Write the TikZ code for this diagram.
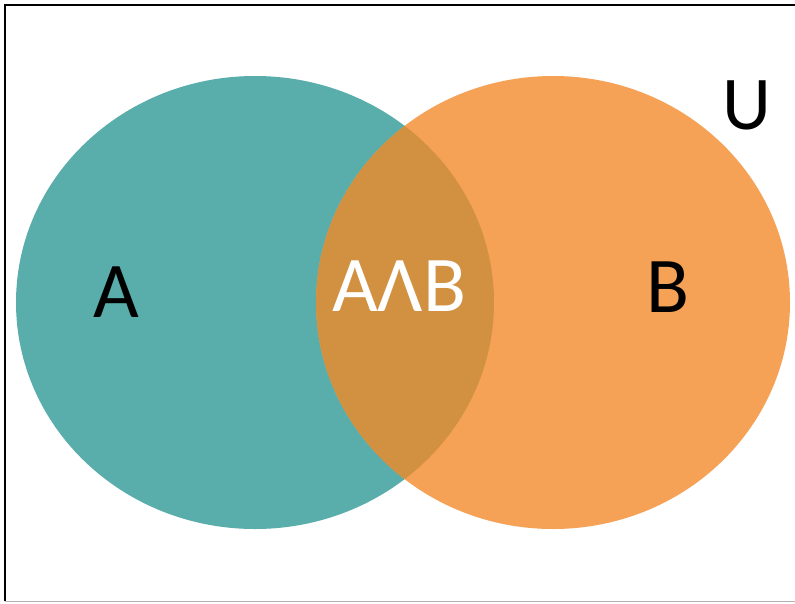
\documentclass[tikz,border=0pt]{standalone}
\usepackage{fontspec}
\setmainfont{Carlito}
\definecolor{tealA}{RGB}{89,173,171}
\definecolor{orangeB}{RGB}{245,161,86}
\definecolor{overlapAB}{RGB}{209,145,65}
\begin{document}
\begin{tikzpicture}[x=1pt,y=-1pt,
  lbl/.style={inner sep=0pt,font=\fontsize{79}{81}\selectfont}]
\useasboundingbox (0,0) rectangle (795,603);
\fill[white] (0,0) rectangle (795,603);
% sets
\fill[tealA] (255,302.5) ellipse [x radius=239, y radius=226.5];
\fill[orangeB] (553,302.5) ellipse [x radius=237, y radius=226.5];
\begin{scope}
  \clip (255,302.5) ellipse [x radius=239, y radius=226.5];
  \fill[overlapAB] (553,302.5) ellipse [x radius=237, y radius=226.5];
\end{scope}
% frame
\draw[black,line width=2pt] (5,601) -- (5,5) -- (795,5);
\draw[gray!60,line width=1.5pt] (5,601.5) -- (795,601.5);
% labels
\node[lbl] (a) at (116,292) {A};
\node[lbl,text=white] (ab) at (399,286) {AΛB};
\node[lbl] (b) at (668,287) {B};
\node[lbl,font=\fontsize{76}{78}\selectfont] (u) at (746.5,105) {U};
\end{tikzpicture}
\end{document}
